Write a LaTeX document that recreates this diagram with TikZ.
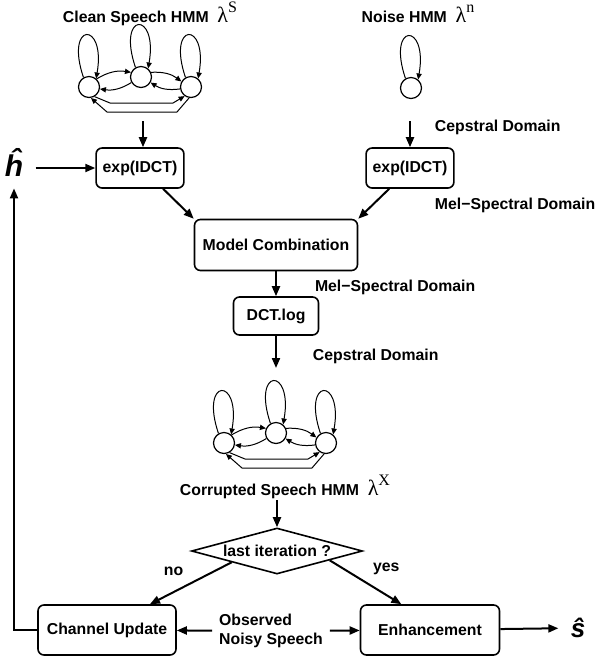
\documentclass[tikz,border=0pt]{standalone}
\usepackage[no-math]{fontspec}
\setmainfont{Liberation Sans}
\newfontfamily\greekfont{Liberation Serif}
\usetikzlibrary{arrows.meta,shapes.geometric,positioning}

\newcommand{\modelsym}[1]{{\fontsize{11}{11}\selectfont\greekfont\mdseries\upshape λ\raisebox{0.45em}{\fontsize{8}{8}\selectfont #1}}}

\tikzset{
  lbl/.style={font=\fontsize{7.9}{9.5}\selectfont\bfseries, inner sep=3.3pt},
  procbox/.style={lbl, draw, rounded corners=3pt, line width=0.8pt},
  decision/.style={lbl, diamond, draw, line width=0.8pt, aspect=3.7, inner sep=0pt,
                   minimum width=85.5pt, minimum height=23pt},
  estimate/.style={font=\bfseries\itshape, inner sep=6pt},
  flow/.style={line width=1pt, -{Triangle[length=5pt,width=4pt]}},
  hmmarrow/.style={line width=0.5pt, -{Triangle[length=3pt,width=2.6pt]}},
  hmmstate/.style={circle, draw, line width=0.6pt, minimum size=10.5pt, inner sep=0pt}
}

\begin{document}
\begin{tikzpicture}[x=0.5pt,y=-0.5pt]
    \useasboundingbox (0,0) rectangle (598,661);

    % the two three-state models
    \foreach \h/\x/\y in {cs/89/87,cx/224/443}{
        \node[hmmstate] (\h-l) at (\x,\y) {};
        \node[hmmstate] (\h-m) at (\x+52,\y-10) {};
        \node[hmmstate] (\h-r) at (\x+102,\y) {};
        \foreach \s in {l,m,r}
            \draw[hmmarrow] (\h-\s.120) .. controls +(-19,-56) and +(10,-58) .. (\h-\s.50);
        \draw[hmmarrow] (\h-l.47) to[bend left=20] (\h-m.155);
        \draw[hmmarrow] (\h-m.210) to[bend left=20] (\h-l.-10);
        \draw[hmmarrow] (\h-m.25) to[bend left=20] (\h-r.150);
        \draw[hmmarrow] (\h-r.190) to[bend left=20] (\h-m.-30);
        \draw[hmmarrow] (\h-l.-60) -- (\x+21,\y+16) -- (\x+84,\y+16) -- (\h-r.-125);
        \draw[hmmarrow] (\h-r.-100) -- (\x+88,\y+25) -- (\x+18,\y+25) -- (\h-l.-80);
    }
    % one-state noise model
    \node[hmmstate] (ns) at (411,88) {};
    \draw[hmmarrow] (ns.120) .. controls +(-19,-56) and +(10,-58) .. (ns.50);

    \node[lbl] (cstitle) at (150,14) {Clean Speech HMM\ \ \modelsym{S}};
    \node[lbl] (nstitle) at (418,14) {Noise HMM\ \ \modelsym{n}};
    \node[lbl] (cxtitle) at (285,487) {Corrupted Speech HMM\ \ \modelsym{X}};

    \node[procbox, minimum width=42.5pt, minimum height=20pt] (expl) at (140,168) {exp(IDCT)};
    \node[procbox, minimum width=42.5pt, minimum height=20pt] (expr) at (410,168) {exp(IDCT)};
    \node[procbox, minimum width=81.5pt, minimum height=25.5pt] (comb) at (276,245) {Model Combination};
    \node[procbox, minimum width=42.5pt, minimum height=19pt] (dct) at (276,316) {DCT.log};
    \node[decision] (iter) at (277,551) {last iteration ?};
    \node[procbox, minimum width=69pt, minimum height=25pt] (chan) at (107,630) {Channel Update};
    \node[procbox, minimum width=69.5pt, minimum height=25pt] (enh) at (430,630) {Enhancement};
    \node[lbl, align=left] (obs) at (271,631) {Observed\\Noisy Speech};

    \node[estimate, font=\fontsize{15}{15}\selectfont\bfseries\itshape] (hhat) at (14,162) {ĥ};
    \node[estimate, font=\fontsize{13}{13}\selectfont\bfseries\itshape] (shat) at (578,628) {ŝ};

    % domain labels
    \node[lbl, anchor=west] (cep1) at (428,127) {Cepstral Domain};
    \node[lbl, anchor=west] (mel1) at (428,205) {Mel−Spectral Domain};
    \node[lbl, anchor=west] (mel2) at (308,287) {Mel−Spectral Domain};
    \node[lbl, anchor=west] (cep2) at (306,356) {Cepstral Domain};

    \coordinate (csout) at (143,121);
    \coordinate (nsout) at (410,121);
    \coordinate (cxin) at (276,368);
    \coordinate (cxout) at (277,500);

    \draw[flow] (csout) -- (csout |- expl.north);
    \draw[flow] (nsout) -- (nsout |- expr.north);
    \draw[flow] (hhat.east |- expl) -- (expl);
    \draw[flow] (expl.-42) -- (comb.north west);
    \draw[flow] (expr.-135) -- (comb.north east);
    \draw[flow] (comb) -- (dct);
    \draw[flow] (dct) -- (cxin);
    \draw[flow] (cxout) -- (iter);
    \draw[flow] (iter.-166) -- node[lbl, above left] {no} (chan.31);
    \draw[flow] (iter.-10) -- node[lbl, above right] {yes} (enh.138);
    \draw[flow] (obs) -- (chan);
    \draw[flow] (obs) -- (enh);
    \draw[flow] (enh) -- (shat);
    \draw[flow] (chan.west) -| (hhat.south);
\end{tikzpicture}
\end{document}
